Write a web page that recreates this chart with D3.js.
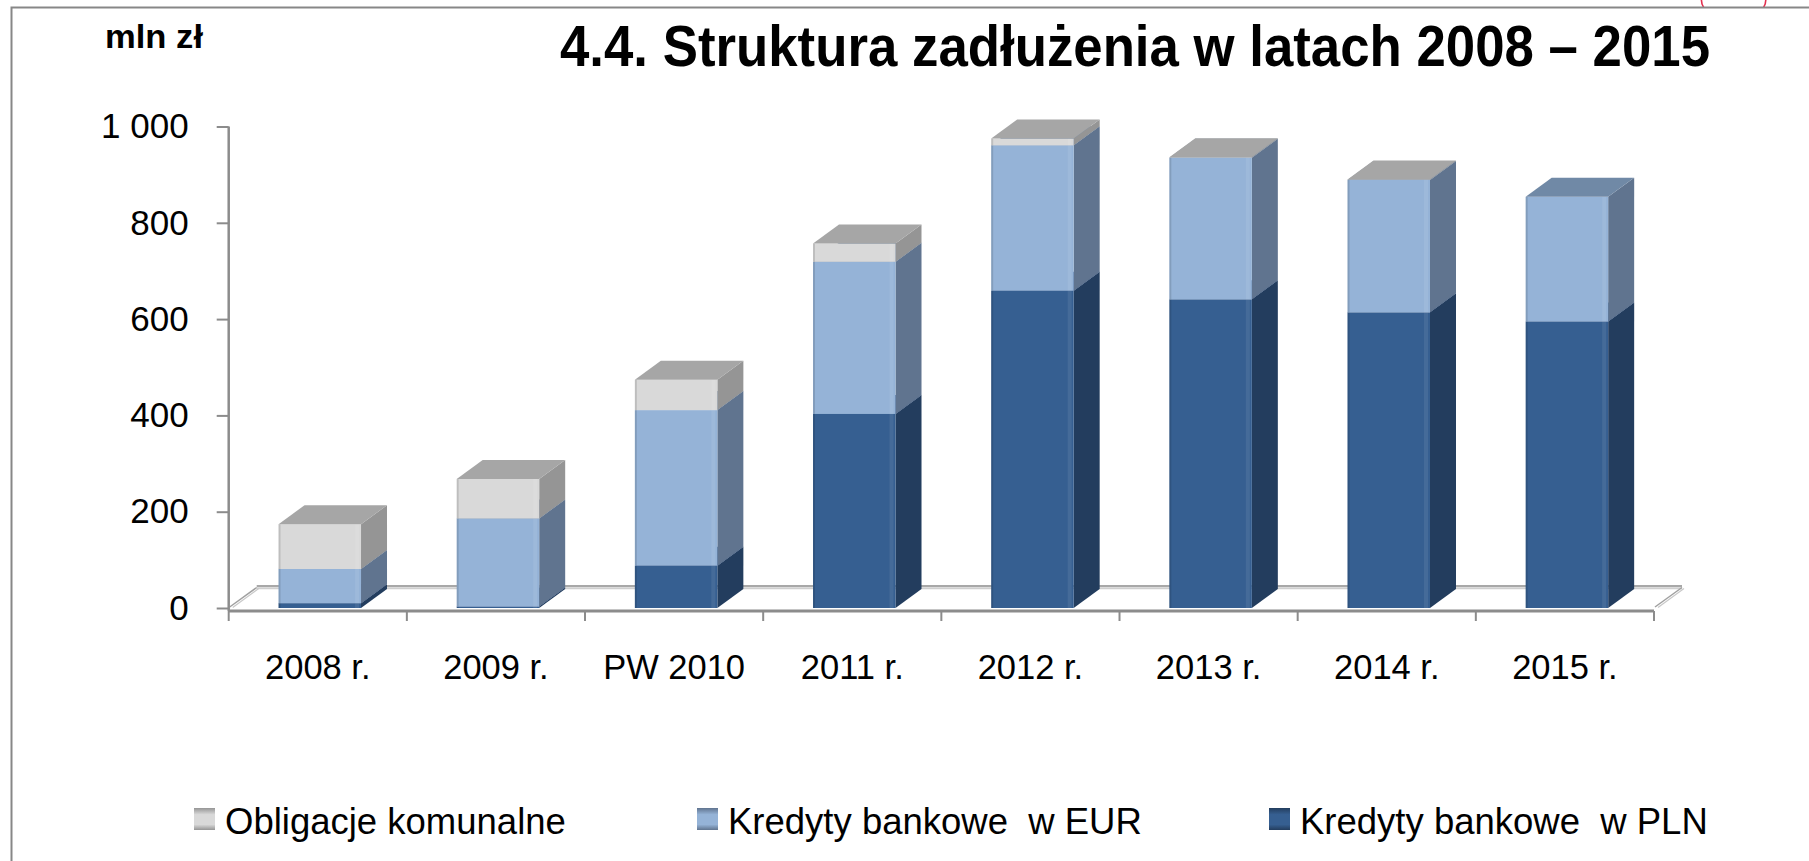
<!DOCTYPE html>
<html><head><meta charset="utf-8">
<script src="https://cdn.jsdelivr.net/npm/d3@7"></script>
<style>
body{margin:0;background:#fff}
svg{display:block}
text{font-family:"Liberation Sans",Arial,sans-serif;fill:#000}
</style>
</head><body>
<svg id="c" width="1809" height="861"></svg>
<script>
// ---- data ----
const categories = ["2008 r.","2009 r.","PW 2010","2011 r.","2012 r.","2013 r.","2014 r.","2015 r."];
const kredytyPLN = [10, 3, 88, 403, 659, 641, 614, 595];
const kredytyEUR = [71, 183, 323, 316, 302, 294, 275, 259];
const obligacje  = [93, 82, 63, 38, 14, 1, 1, 0];
const seriesKeys = ["pln","eur","obl"];
const legendNames = ["Obligacje komunalne","Kredyty bankowe  w EUR","Kredyty bankowe  w PLN"];
const legendKeys = ["obl","eur","pln"];
const yTicks = [0, 200, 400, 600, 800, 1000];
const yTickLabels = ["0","200","400","600","800","1 000"];
const titleText = "4.4. Struktura zadłużenia w latach 2008 – 2015";
const unitText = "mln zł";

// ---- styles ----
const colors = {
  pln: {front:"#365F91", side:"#233D5E", top:"#2E5080"},
  eur: {front:"#95B3D7", side:"#60748F", top:"#7089A6"},
  obl: {front:"#D9D9D9", side:"#959595", top:"#A6A6A6"}
};
const axisColor = "#8C8C8C";
const depthX = 26, depthY = -19;
const floorDX = 28, floorDY = -20.5;

const svg = d3.select("#c");

// red ellipse artefact (top-right) behind chart area
svg.append("ellipse").attr("cx",1733.6).attr("cy",0).attr("rx",32.2).attr("ry",20)
  .attr("fill","none").attr("stroke","#E3304F").attr("stroke-width",1.6);
svg.append("rect").attr("x",12).attr("y",8).attr("width",1809).attr("height",861).attr("fill","#fff");
svg.append("path").attr("d","M11.5,861V7.5H1809").attr("fill","none")
  .attr("stroke","#878787").attr("stroke-width",2);

// ---- scales ----
const rows = categories.map((c,i)=>({cat:c, pln:kredytyPLN[i], eur:kredytyEUR[i], obl:obligacje[i]}));
const stack = d3.stack().keys(seriesKeys)(rows);

const x = d3.scaleBand().domain(categories).range([228.7, 1654]).paddingInner(0.537).paddingOuter(0.2685);
const y = d3.scaleLinear().domain([0,1000]).range([608, 126.5]);
const [x0r, x1r] = x.range();
const y0 = y(0);

// ---- floor ----
const g = svg.append("g");
g.append("polygon")
  .attr("points", [[x0r,y0],[x1r,y0],[x1r+floorDX,y0+floorDY],[x0r+floorDX,y0+floorDY]].map(p=>p.join(",")).join(" "))
  .attr("fill","#fff");
g.append("line").attr("x1",x0r+floorDX).attr("x2",x1r+floorDX).attr("y1",y0+floorDY-1.5).attr("y2",y0+floorDY-1.5)
  .attr("stroke","#A8A8A8").attr("stroke-width",2);
g.append("line").attr("x1",x0r+floorDX).attr("x2",x1r+floorDX).attr("y1",y0+floorDY+0.8).attr("y2",y0+floorDY+0.8)
  .attr("stroke","#CFCFCF").attr("stroke-width",2);
[x0r, x1r].forEach(xx=>{
  g.append("line").attr("x1",xx+1).attr("y1",y0-1).attr("x2",xx+floorDX).attr("y2",y0+floorDY)
    .attr("stroke","#A0A0A0").attr("stroke-width",1.5);
  g.append("line").attr("x1",xx+4).attr("y1",y0-0.5).attr("x2",xx+floorDX+2).attr("y2",y0+floorDY+1)
    .attr("stroke","#C8C8C8").attr("stroke-width",1.2);
});

// ---- bars ----
const bw = x.bandwidth();
const pts = a => a.map(p=>p.join(",")).join(" ");
const barsG = svg.append("g");
categories.forEach((cat,i)=>{
  const bx0 = x(cat)+2, bx1 = bx0 + bw;
  stack.forEach(layer=>{
    const key = layer.key;
    const [v0,v1] = layer[i];
    if (v1 - v0 <= 0) return;
    const yb = y(v0), yt = y(v1);
    const c = colors[key];
    const bg = barsG.append("g");
    bg.append("polygon").attr("points", pts([[bx1,yb],[bx1+depthX,yb+depthY],[bx1+depthX,yt+depthY],[bx1,yt]]))
      .attr("fill", c.side);
    bg.append("rect").attr("x",bx0).attr("y",yt).attr("width",bw).attr("height",yb-yt).attr("fill",c.front);
    bg.append("rect").attr("x",bx0).attr("y",yt).attr("width",2).attr("height",yb-yt).attr("fill","#000").attr("opacity",0.12);
    bg.append("rect").attr("x",bx1-6).attr("y",yt).attr("width",4).attr("height",yb-yt).attr("fill","#fff").attr("opacity",0.08);
    bg.append("polygon").attr("points", pts([[bx0,yt],[bx1,yt],[bx1+depthX,yt+depthY],[bx0+depthX,yt+depthY]]))
      .attr("fill", c.top);
  });
});

// ---- axes ----
const yAxis = d3.axisLeft(y).tickValues(yTicks).tickFormat((d,i)=>yTickLabels[i]).tickSize(12).tickPadding(28);
const yG = svg.append("g").attr("transform",`translate(${x0r},0)`).call(yAxis);
yG.select(".domain").attr("d",`M0,${y(1000)}V${y0+3}`).attr("stroke",axisColor).attr("stroke-width",2.5);
yG.selectAll(".tick line").attr("stroke",axisColor).attr("stroke-width",2);
yG.selectAll(".tick text").attr("font-size",35).attr("font-family","Liberation Sans, Arial, sans-serif").attr("fill","#000");

const xAxis = d3.axisBottom(x).tickSize(0).tickPadding(44);
const xG = svg.append("g").attr("transform",`translate(0,${y0+3})`).call(xAxis);
xG.select(".domain").remove();
xG.selectAll(".tick text").attr("font-size",34.5).attr("font-family","Liberation Sans, Arial, sans-serif").attr("fill","#000");
xG.append("line").attr("x1",x0r).attr("x2",x1r).attr("y1",0).attr("y2",0).attr("stroke",axisColor).attr("stroke-width",3);
d3.range(categories.length+1).forEach(k=>{
  const xx = x0r + k*x.step();
  xG.append("line").attr("x1",xx).attr("x2",xx).attr("y1",0).attr("y2",10).attr("stroke",axisColor).attr("stroke-width",2);
});

// ---- titles ----
svg.append("text").attr("x",560).attr("y",66).attr("font-size",57).attr("font-weight","bold")
  .attr("textLength",1150).attr("lengthAdjust","spacingAndGlyphs").text(titleText);
svg.append("text").attr("x",105).attr("y",48).attr("font-size",33).attr("font-weight","bold")
  .attr("textLength",98).attr("lengthAdjust","spacingAndGlyphs").text(unitText);

// ---- legend ----
const legendX = [194, 697, 1269];
const defs = svg.append("defs");
legendKeys.forEach((k,i)=>{
  const gr = defs.append("linearGradient").attr("id","lg"+k).attr("x1",0).attr("y1",0).attr("x2",0).attr("y2",1);
  gr.append("stop").attr("offset","0%").attr("stop-color",colors[k].side);
  gr.append("stop").attr("offset","30%").attr("stop-color",colors[k].front);
  gr.append("stop").attr("offset","75%").attr("stop-color",colors[k].front);
  gr.append("stop").attr("offset","100%").attr("stop-color",colors[k].side);
  const lg = svg.append("g").attr("transform",`translate(${legendX[i]},808)`);
  lg.append("rect").attr("width",21).attr("height",22).attr("fill",`url(#lg${k})`);
  lg.append("text").attr("x",31).attr("y",26).attr("font-size",36.5).style("white-space","pre").text(legendNames[i]);
});
</script>
</body></html>
